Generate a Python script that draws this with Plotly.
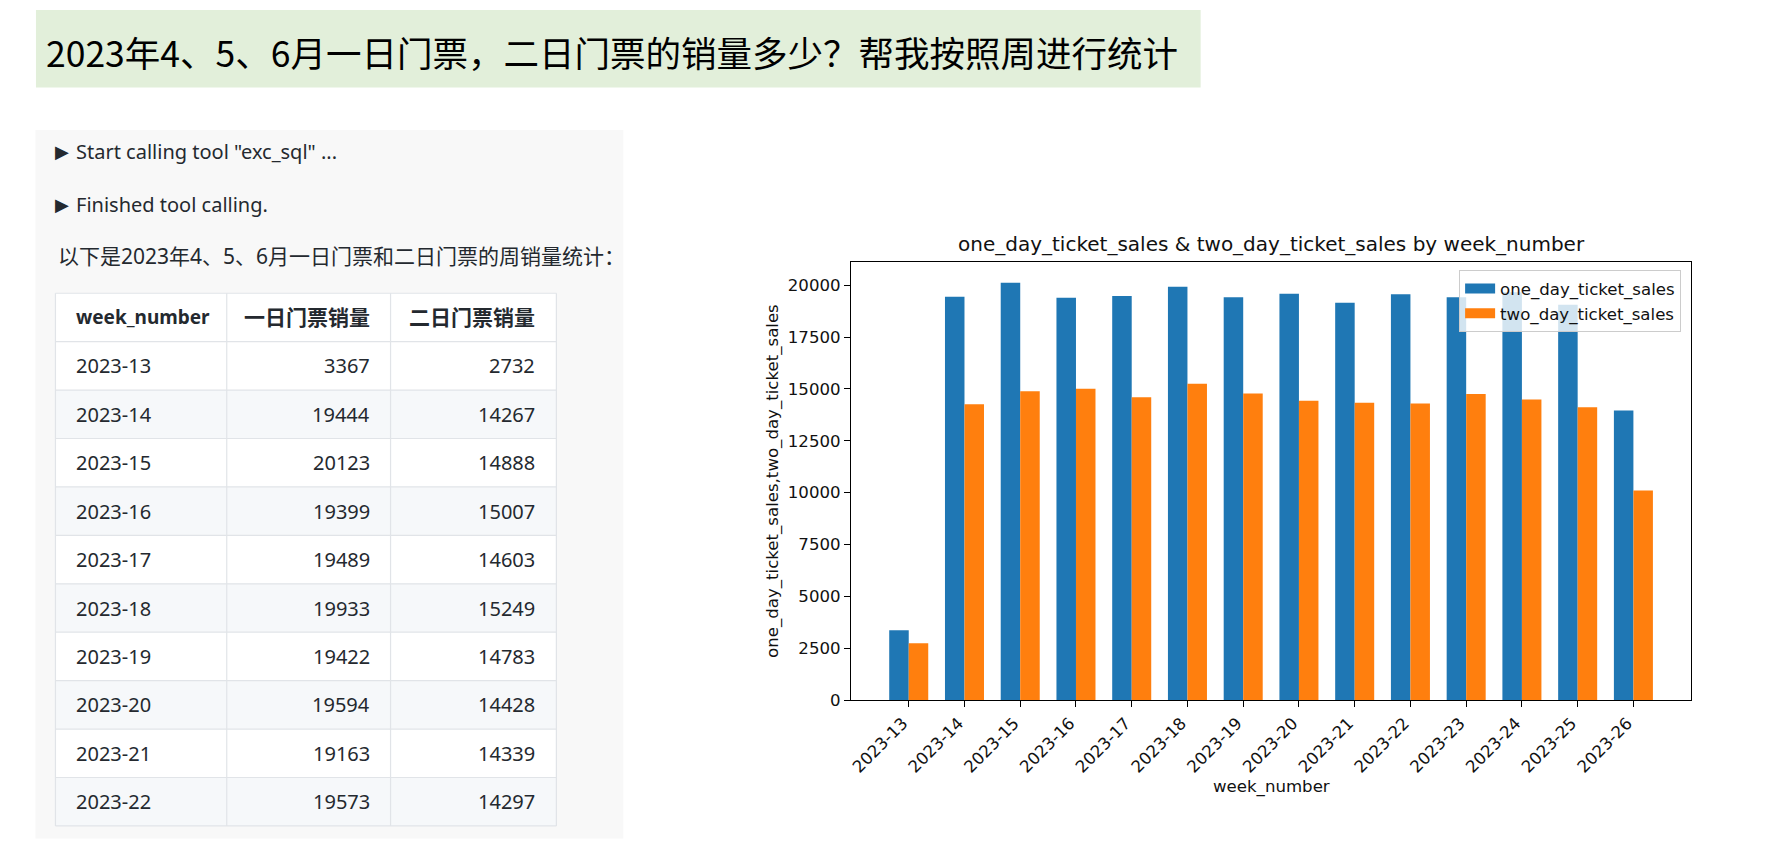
import plotly.graph_objects as go

# ---------------- data ----------------
weeks = ["2023-13", "2023-14", "2023-15", "2023-16", "2023-17", "2023-18", "2023-19",
         "2023-20", "2023-21", "2023-22", "2023-23", "2023-24", "2023-25", "2023-26"]
one_day_ticket_sales = [3367, 19444, 20123, 19399, 19489, 19933, 19422,
                        19594, 19163, 19573, 19430, 19670, 19060, 13960]
two_day_ticket_sales = [2732, 14267, 14888, 15007, 14603, 15249, 14783,
                        14428, 14339, 14297, 14760, 14490, 14120, 10100]
y_ticks = [0, 2500, 5000, 7500, 10000, 12500, 15000, 17500, 20000]

question = "2023年4、5、6月一日门票，二日门票的销量多少？帮我按照周进行统计"
log_lines = ["Start calling tool \"exc_sql\" ...", "Finished tool calling."]
intro = "以下是2023年4、5、6月一日门票和二日门票的周销量统计："
table_header = ["week_number", "一日门票销量", "二日门票销量"]
table_rows = 10  # rows visible in the table

W, H = 1780, 855
def px(x):
    return x / W
def py(y):
    return 1 - y / H

BLUE = "#1f77b4"
ORANGE = "#ff7f0e"
UI = "Noto Sans, Noto Sans CJK SC, sans-serif"
MPL = "DejaVu Sans"
TXT = "#24292f"

fig = go.Figure()

# ---------------- bar chart ----------------
fig.add_trace(go.Bar(x=weeks, y=one_day_ticket_sales, name="one_day_ticket_sales",
                     marker=dict(color=BLUE, line=dict(width=0)), showlegend=False))
fig.add_trace(go.Bar(x=weeks, y=two_day_ticket_sales, name="two_day_ticket_sales",
                     marker=dict(color=ORANGE, line=dict(width=0)), showlegend=False))
# legend handles (matplotlib-like wide patches)
fig.add_trace(go.Scatter(x=[None], y=[None], mode="lines", name="one_day_ticket_sales",
                         line=dict(color=BLUE, width=11)))
fig.add_trace(go.Scatter(x=[None], y=[None], mode="lines", name="two_day_ticket_sales",
                         line=dict(color=ORANGE, width=11)))

ymax = max(one_day_ticket_sales + two_day_ticket_sales) * 1.05
n = len(weeks)
half = 0.35
xpad = (n - 1 + 2 * half) * 0.05

axis_common = dict(showline=True, linecolor="black", linewidth=1.3, mirror=True,
                   ticks="outside", ticklen=6, tickwidth=1.3, tickcolor="black",
                   showgrid=False, zeroline=False,
                   tickfont=dict(family=MPL, size=16.6, color="#111"))

fig.update_layout(
    width=W, height=H,
    margin=dict(l=0, r=0, t=0, b=0),
    paper_bgcolor="white", plot_bgcolor="white",
    barmode="group", bargap=0.3, bargroupgap=0,
    xaxis=dict(domain=[px(850), px(1691)], type="category",
               range=[-half - xpad, n - 1 + half + xpad],
               tickangle=-45, ticklabelshift=-6, **axis_common),
    yaxis=dict(domain=[py(708.3), py(265)], range=[0, ymax],
               tickvals=y_ticks, tickformat="d", **axis_common),
    legend=dict(x=px(1681), xanchor="right", y=py(273.5), yanchor="top",
                bgcolor="rgba(255,255,255,0.8)", bordercolor="#cccccc", borderwidth=1,
                font=dict(family=MPL, size=16.6, color="#111"), itemwidth=30),
)

annotations = [
    dict(text="one_day_ticket_sales & two_day_ticket_sales by week_number",
         x=px(1270.5), y=py(246.5), xanchor="center", yanchor="middle",
         font=dict(family=MPL, size=20, color="#111")),
    dict(text="week_number", x=px(1270.5), y=py(796), xanchor="center", yanchor="middle",
         font=dict(family=MPL, size=16.6, color="#111")),
    dict(text="one_day_ticket_sales,two_day_ticket_sales", x=px(772), y=py(486.5),
         xanchor="center", yanchor="middle", textangle=-90,
         font=dict(family=MPL, size=16.6, color="#111")),
    # banner question
    dict(text=question, x=px(42), y=py(52), xanchor="left", yanchor="middle",
         font=dict(family="Noto Sans CJK SC", size=35.5, color="black")),
    # log lines
    dict(text="▶", x=px(51), y=py(153.5), xanchor="left", yanchor="middle",
         font=dict(family="DejaVu Sans", size=18, color=TXT)),
    dict(text=log_lines[0], x=px(72), y=py(153.5), xanchor="left", yanchor="middle",
         font=dict(family=UI, size=20, color=TXT)),
    dict(text="▶", x=px(51), y=py(207), xanchor="left", yanchor="middle",
         font=dict(family="DejaVu Sans", size=18, color=TXT)),
    dict(text=log_lines[1], x=px(72), y=py(207), xanchor="left", yanchor="middle",
         font=dict(family=UI, size=20, color=TXT)),
    dict(text=intro, x=px(54), y=py(259.5), xanchor="left", yanchor="middle",
         font=dict(family=UI, size=21, color=TXT)),
]

shapes = [
    dict(type="rect", x0=px(34), x1=px(1200), y0=py(88.5), y1=py(10),
         fillcolor="#e2efda", line=dict(width=0), layer="below"),
    dict(type="rect", x0=px(33.5), x1=px(622), y0=py(848.5), y1=py(131.5),
         fillcolor="#f8f8f8", line=dict(width=0), layer="below"),
]

# ---------------- table (markdown-style grid) ----------------
col_edges = [53.5, 225, 389, 555]
table_top = 296.7
row_h = 49
border = "#e1e4e8"
n_rows = table_rows + 1
table_bottom = table_top + n_rows * row_h

for r in range(n_rows):
    y0 = table_top + r * row_h
    fill = "#f6f8fa" if (r >= 1 and (r - 1) % 2 == 1) else "white"
    shapes.append(dict(type="rect", x0=px(col_edges[0]), x1=px(col_edges[-1]),
                       y0=py(y0 + row_h), y1=py(y0), fillcolor=fill,
                       line=dict(width=0), layer="below"))
for r in range(n_rows + 1):
    y = table_top + r * row_h
    shapes.append(dict(type="line", x0=px(col_edges[0]), x1=px(col_edges[-1]),
                       y0=py(y), y1=py(y), line=dict(color=border, width=1.2)))
for xe in col_edges:
    shapes.append(dict(type="line", x0=px(xe), x1=px(xe), y0=py(table_top),
                       y1=py(table_bottom), line=dict(color=border, width=1.2)))

cell_pad = 19
columns = [weeks[:table_rows],
           [str(v) for v in one_day_ticket_sales[:table_rows]],
           [str(v) for v in two_day_ticket_sales[:table_rows]]]
aligns = ["left", "right", "right"]

def cell_x(c):
    return col_edges[c] + cell_pad if aligns[c] == "left" else col_edges[c + 1] - cell_pad

for c, head in enumerate(table_header):
    annotations.append(dict(text="<b>" + head + "</b>", x=px(cell_x(c)),
                            y=py(table_top + row_h / 2), xanchor=aligns[c], yanchor="middle",
                            font=dict(family=UI, size=19 if c == 0 else 21, color=TXT)))
for c, col in enumerate(columns):
    for r, val in enumerate(col):
        annotations.append(dict(text=val, x=px(cell_x(c)),
                                y=py(table_top + (r + 1.5) * row_h), xanchor=aligns[c],
                                yanchor="middle", font=dict(family=UI, size=20, color=TXT)))

for a in annotations:
    a.update(xref="paper", yref="paper", showarrow=False)
for s in shapes:
    s.update(xref="paper", yref="paper")
fig.update_layout(annotations=annotations, shapes=shapes)

fig.write_html("out.html")
